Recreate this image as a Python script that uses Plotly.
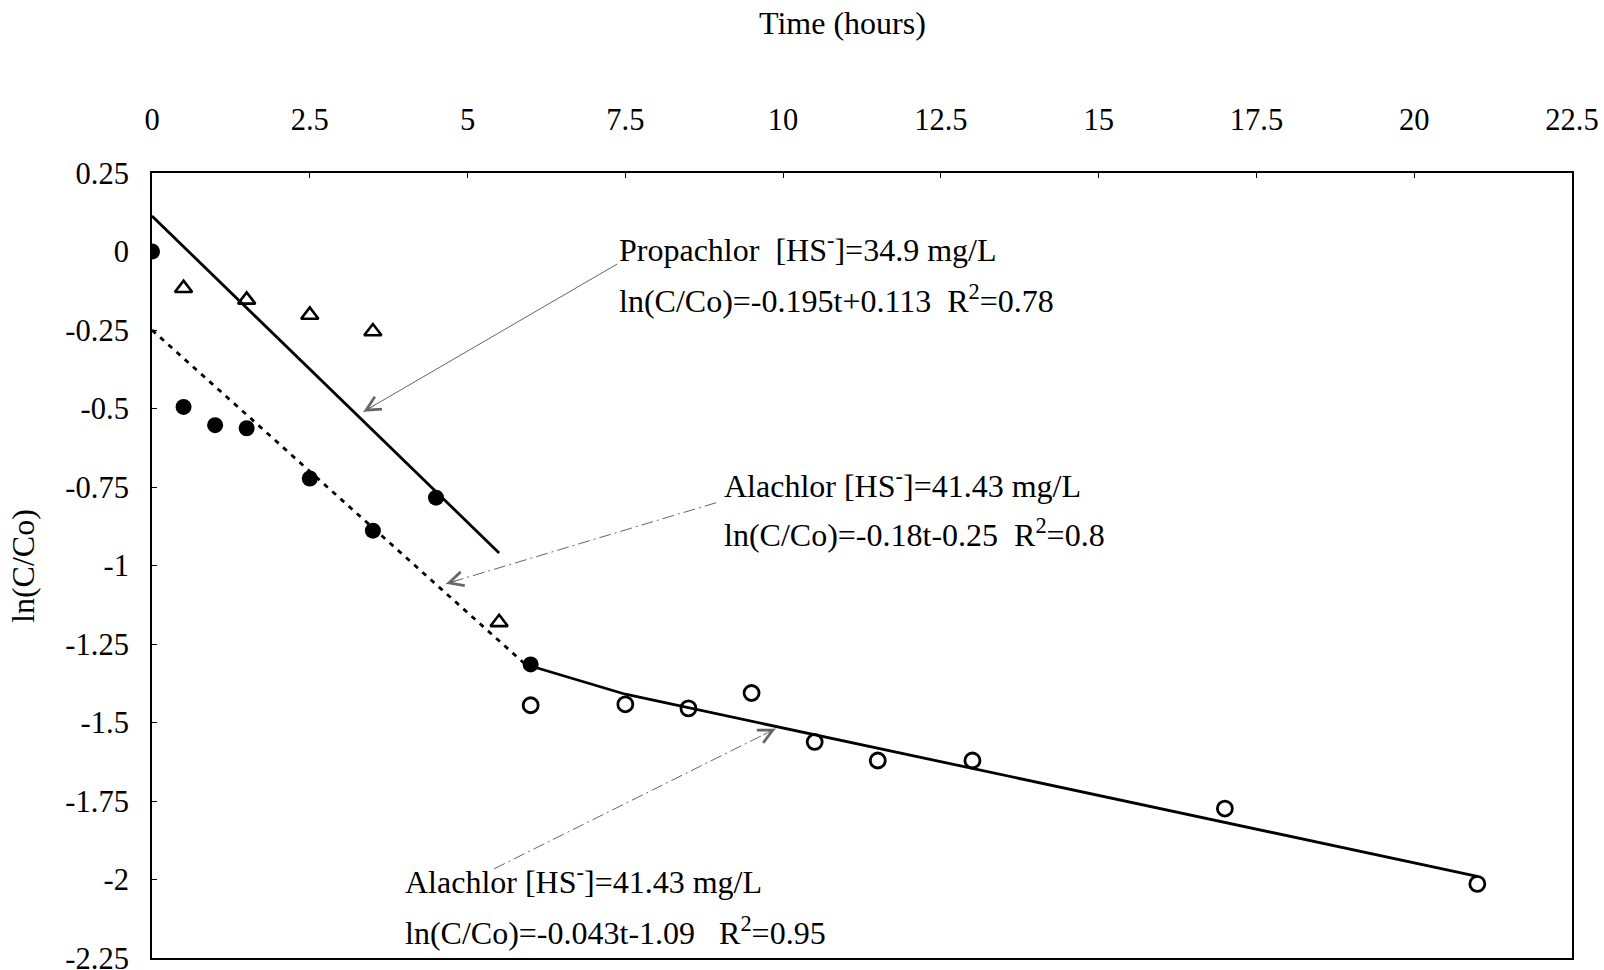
import plotly.graph_objects as go

# ---- data ----
filled_t = [0, 0.5, 1, 1.5, 2.5, 3.5, 4.5, 6]
filled_y = [0, -0.495, -0.553, -0.563, -0.723, -0.889, -0.784, -1.315]

tri_t = [0.5, 1.5, 2.5, 3.5, 5.5]
tri_y = [-0.117, -0.154, -0.202, -0.255, -1.181]

open_t = [6, 7.5, 8.5, 9.5, 10.5, 11.5, 13, 17, 21]
open_y = [-1.445, -1.442, -1.455, -1.406, -1.562, -1.621, -1.621, -1.774, -2.014]

# fitted lines (end points)
prop_fit_t = [0, 5.5]
prop_fit_y = [0.113, -0.96]
ala1_fit_t = [0, 6]
ala1_fit_y = [-0.25, -1.33]
ala2_fit_t = [6, 7.5, 21]
ala2_fit_y = [-1.32, -1.41, -1.99]

x_ticks = [0, 2.5, 5, 7.5, 10, 12.5, 15, 17.5, 20, 22.5]
y_ticks = [0.25, 0, -0.25, -0.5, -0.75, -1, -1.25, -1.5, -1.75, -2, -2.25]

FONT = "Liberation Serif, Times New Roman, serif"

fig = go.Figure()

line_style = dict(color="black", width=2.8)
fig.add_trace(go.Scatter(x=prop_fit_t, y=prop_fit_y, mode="lines", line=line_style,
                         showlegend=False, hoverinfo="skip"))
fig.add_trace(go.Scatter(x=ala1_fit_t, y=ala1_fit_y, mode="lines",
                         line=dict(color="black", width=2.8, dash="5px,6px"),
                         showlegend=False, hoverinfo="skip"))
fig.add_trace(go.Scatter(x=ala2_fit_t, y=ala2_fit_y, mode="lines", line=line_style,
                         showlegend=False, hoverinfo="skip"))

fig.add_trace(go.Scatter(x=tri_t, y=tri_y, mode="markers",
                         marker=dict(symbol="triangle-up-open", size=15, color="black",
                                     line=dict(width=2.6, color="black")),
                         showlegend=False))
fig.add_trace(go.Scatter(x=open_t, y=open_y, mode="markers",
                         marker=dict(symbol="circle-open", size=15, color="black",
                                     line=dict(width=2.8, color="black")),
                         showlegend=False))
fig.add_trace(go.Scatter(x=filled_t, y=filled_y, mode="markers",
                         marker=dict(symbol="circle", size=16, color="black"),
                         showlegend=False))

# ---- text annotations ----
txt_font = dict(family=FONT, size=32, color="black")
texts = [
    (7.37, 0.011, "Propachlor  [HS<sup>-</sup>]=34.9 mg/L"),
    (7.37, -0.152, "ln(C/Co)=-0.195t+0.113  R<sup>2</sup>=0.78"),
    (9.03, -0.742, "Alachlor [HS<sup>-</sup>]=41.43 mg/L"),
    (9.03, -0.898, "ln(C/Co)=-0.18t-0.25  R<sup>2</sup>=0.8"),
    (3.97, -2.002, "Alachlor [HS<sup>-</sup>]=41.43 mg/L"),
    (3.97, -2.165, "ln(C/Co)=-0.043t-1.09   R<sup>2</sup>=0.95"),
]
for x, y, t in texts:
    fig.add_annotation(x=x, y=y, xref="x", yref="y", text=t, showarrow=False,
                       xanchor="left", yanchor="middle", font=txt_font)

# ---- arrows: (tail_x, tail_y, head_x, head_y, dashed) ----
arrows = [
    (7.37, -0.04, 3.35, -0.51, False),
    (8.94, -0.80, 4.66, -1.058, True),
    (5.42, -1.966, 9.88, -1.52, True),
]
arrow_col = "#666666"
for tx, ty, hx, hy, dashed in arrows:
    fig.add_shape(type="line", xref="x", yref="y", x0=tx, y0=ty, x1=hx, y1=hy,
                  line=dict(color=arrow_col, width=1,
                            dash="12px,4px,2px,4px" if dashed else "solid"))
    fx = hx + (tx - hx) * 0.05
    fy = hy + (ty - hy) * 0.05
    fig.add_annotation(x=hx, y=hy, ax=fx, ay=fy, xref="x", yref="y",
                       axref="x", ayref="y", text="", showarrow=True,
                       arrowhead=5, arrowsize=3.5, arrowwidth=0.8, arrowcolor=arrow_col)

# ---- axis titles ----
fig.add_annotation(x=0.4866, y=1.1917, xref="paper", yref="paper",
                   text="Time (hours)", showarrow=False,
                   xanchor="center", yanchor="middle",
                   font=dict(family=FONT, size=32, color="black"))
fig.add_annotation(x=-0.0912, y=0.5, xref="paper", yref="paper",
                   text="ln(C/Co)", showarrow=False, textangle=-90,
                   xanchor="center", yanchor="middle",
                   font=dict(family=FONT, size=32, color="black"))

fig.update_layout(
    width=1604, height=970,
    margin=dict(l=152, r=32, t=173, b=12, autoexpand=False),
    plot_bgcolor="white", paper_bgcolor="white",
    font=dict(family=FONT, size=30, color="black"),
    showlegend=False,
)
fig.update_xaxes(
    side="top", range=[0, 22.5], tickvals=x_ticks,
    ticktext=[f"{v:g}" for v in x_ticks],
    showgrid=False, zeroline=False, automargin=False,
    showline=True, linecolor="black", linewidth=2, mirror=True,
    ticks="inside", ticklen=5, tickcolor="black", tickwidth=1,
    ticklabelstandoff=29, ticklabeloverflow="allow",
    tickfont=dict(family=FONT, size=30.5),
)
fig.update_yaxes(
    range=[-2.25, 0.25], tickvals=y_ticks,
    ticktext=[f"{v:g}" for v in y_ticks],
    showgrid=False, zeroline=False, automargin=False,
    showline=True, linecolor="black", linewidth=2, mirror=True,
    ticks="inside", ticklen=5, tickcolor="black", tickwidth=1,
    ticklabelstandoff=15, ticklabeloverflow="allow",
    tickfont=dict(family=FONT, size=30.5),
)

fig.write_html("out.html")
